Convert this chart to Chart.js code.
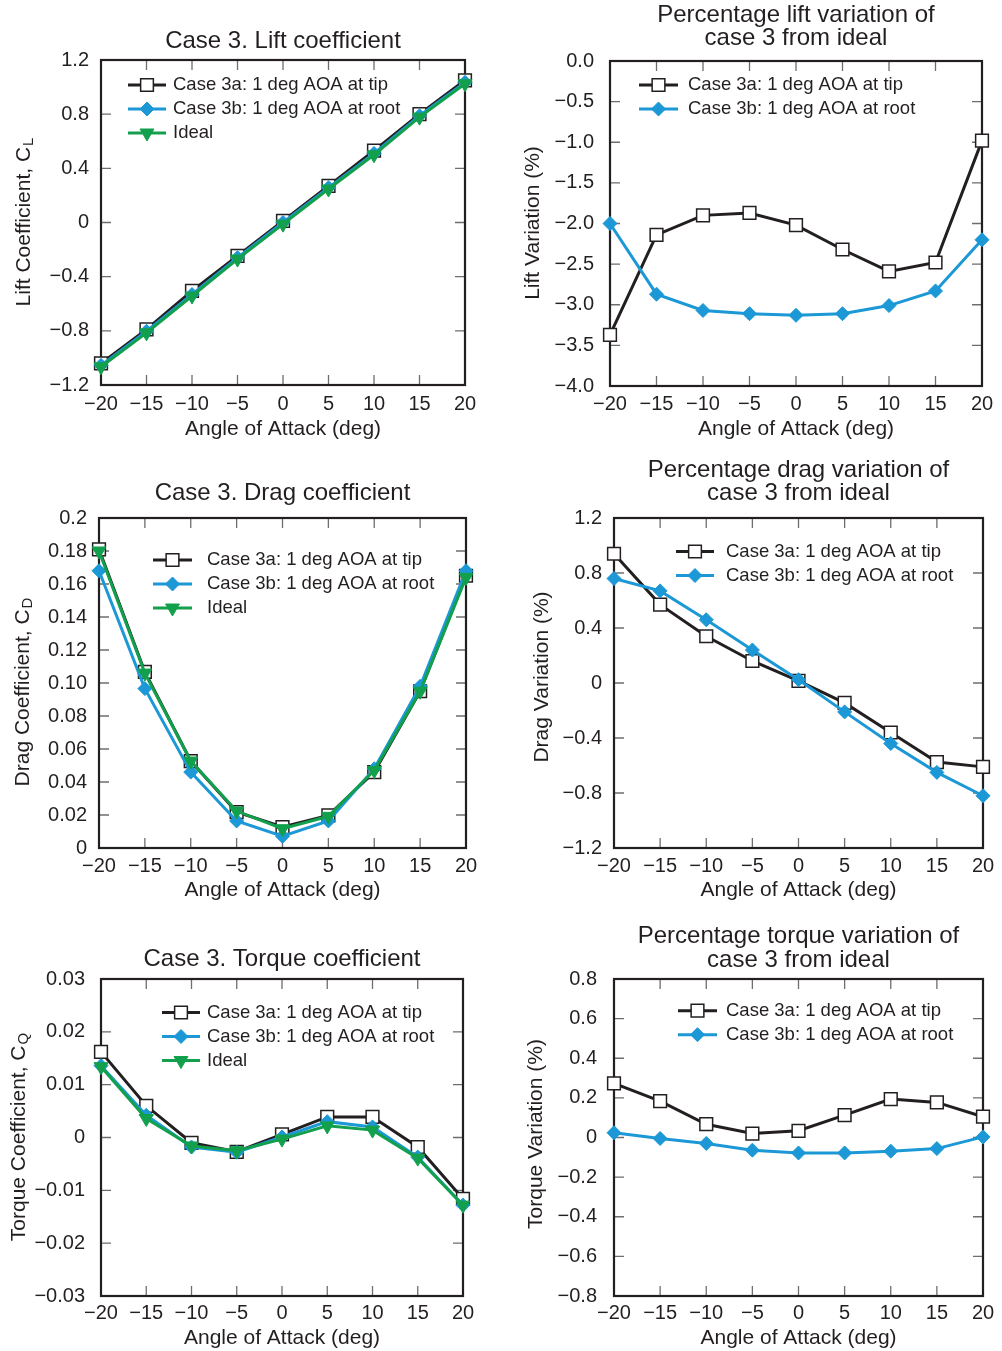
<!DOCTYPE html>
<html><head><meta charset="utf-8">
<script src="https://cdn.jsdelivr.net/npm/chart.js@4/dist/chart.umd.min.js"></script>
<style>
html,body{margin:0;padding:0;background:#fff;}
body{width:1002px;height:1351px;position:relative;overflow:hidden;}
canvas{position:absolute;}
</style></head><body>
<canvas id="c1"></canvas><canvas id="c2"></canvas><canvas id="c3"></canvas>
<canvas id="c4"></canvas><canvas id="c5"></canvas><canvas id="c6"></canvas>
<script>
// ---------- data ----------
const aoa = [-20, -15, -10, -5, 0, 5, 10, 15, 20];
const xTickLabels = ['\u221220','\u221215','\u221210','\u22125','0','5','10','15','20'];

const liftTip   = [-1.04, -0.79, -0.505, -0.247, 0.012, 0.27, 0.53, 0.80, 1.05];
const liftRoot  = [-1.055, -0.803, -0.532, -0.26, 0.0, 0.257, 0.51, 0.788, 1.035];
const liftIdeal = [-1.065, -0.815, -0.543, -0.27, -0.012, 0.247, 0.50, 0.778, 1.025];

const liftVarTip  = [-3.37, -2.14, -1.90, -1.87, -2.02, -2.32, -2.59, -2.48, -0.98];
const liftVarRoot = [-2.00, -2.87, -3.07, -3.11, -3.13, -3.11, -3.01, -2.83, -2.20];

const dragTip   = [0.181, 0.1067, 0.0527, 0.0218, 0.0127, 0.0198, 0.046, 0.095, 0.165];
const dragRoot  = [0.168, 0.0966, 0.046, 0.0164, 0.0071, 0.0164, 0.048, 0.098, 0.168];
const dragIdeal = [0.180, 0.106, 0.0527, 0.0224, 0.0117, 0.0192, 0.047, 0.095, 0.164];

const dragVarTip  = [0.94, 0.57, 0.34, 0.16, 0.015, -0.145, -0.36, -0.575, -0.61];
const dragVarRoot = [0.76, 0.67, 0.46, 0.24, 0.024, -0.21, -0.44, -0.65, -0.82];

const torqueTip   = [0.0162, 0.0060, -0.0010, -0.0027, 0.0006, 0.0039, 0.0039, -0.0018, -0.0116];
const torqueRoot  = [0.0136, 0.0042, -0.0018, -0.0028, 0.0001, 0.0030, 0.0020, -0.0037, -0.0128];
const torqueIdeal = [0.0134, 0.0036, -0.0016, -0.0025, -0.0003, 0.0022, 0.0014, -0.0039, -0.0128];

const torqueVarTip  = [0.273, 0.184, 0.067, 0.020, 0.034, 0.113, 0.194, 0.177, 0.105];
const torqueVarRoot = [0.024, -0.005, -0.030, -0.064, -0.078, -0.078, -0.069, -0.056, 0.003];

const liftTicks = [-1.2, -0.8, -0.4, 0, 0.4, 0.8, 1.2];
const liftTickLabels = ['\u22121.2','\u22120.8','\u22120.4','0','0.4','0.8','1.2'];
const liftVarTicks = [-4, -3.5, -3, -2.5, -2, -1.5, -1, -0.5, 0];
const liftVarTickLabels = ['\u22124.0','\u22123.5','\u22123.0','\u22122.5','\u22122.0','\u22121.5','\u22121.0','\u22120.5','0.0'];
const dragTicks = [0, 0.02, 0.04, 0.06, 0.08, 0.10, 0.12, 0.14, 0.16, 0.18, 0.2];
const dragTickLabels = ['0','0.02','0.04','0.06','0.08','0.10','0.12','0.14','0.16','0.18','0.2'];
const dragVarTicks = [-1.2, -0.8, -0.4, 0, 0.4, 0.8, 1.2];
const dragVarTickLabels = ['\u22121.2','\u22120.8','\u22120.4','0','0.4','0.8','1.2'];
const torqueTicks = [-0.03, -0.02, -0.01, 0, 0.01, 0.02, 0.03];
const torqueTickLabels = ['\u22120.03','\u22120.02','\u22120.01','0','0.01','0.02','0.03'];
const torqueVarTicks = [-0.8, -0.6, -0.4, -0.2, 0, 0.2, 0.4, 0.6, 0.8];
const torqueVarTickLabels = ['\u22120.8','\u22120.6','\u22120.4','\u22120.2','0','0.2','0.4','0.6','0.8'];

const labelTip = 'Case 3a: 1 deg AOA at tip';
const labelRoot = 'Case 3b: 1 deg AOA at root';
const labelIdeal = 'Ideal';

// ---------- styles ----------
const FONT = '"Liberation Sans", Arial, Helvetica, sans-serif';
const INK = '#231f20';
const styles = {
  tip:   {borderColor:'#231f20', borderWidth:3, pointStyle:'rect', pointRadius:9, pointBackgroundColor:'#ffffff', pointBorderColor:'#231f20', pointBorderWidth:1.5, pointRotation:0, order:3},
  root:  {borderColor:'#1b98d5', borderWidth:3, pointStyle:'rectRot', pointRadius:7, pointBackgroundColor:'#1b98d5', pointBorderColor:'#1b98d5', pointBorderWidth:1, pointRotation:0, order:2},
  ideal: {borderColor:'#12a04d', borderWidth:3, pointStyle:'triangle', pointRadius:8, pointBackgroundColor:'#12a04d', pointBorderColor:'#12a04d', pointBorderWidth:1, pointRotation:180, order:1}
};

// ---------- plugins ----------
const framePlugin = {
  id: 'frame',
  beforeDatasetsDraw(chart) {
    const {ctx, chartArea: a, scales: {x, y}} = chart;
    ctx.save();
    ctx.strokeStyle = '#6d6e71'; ctx.lineWidth = 1.3;
    const L = 10;
    ctx.beginPath();
    x.ticks.forEach(t => { const p = x.getPixelForValue(t.value);
      ctx.moveTo(p, a.top); ctx.lineTo(p, a.top + L); ctx.moveTo(p, a.bottom); ctx.lineTo(p, a.bottom - L); });
    y.ticks.forEach(t => { const p = y.getPixelForValue(t.value);
      ctx.moveTo(a.left, p); ctx.lineTo(a.left + L, p); ctx.moveTo(a.right, p); ctx.lineTo(a.right - L, p); });
    ctx.stroke();
    ctx.strokeStyle = '#231f20'; ctx.lineWidth = 2.2;
    ctx.strokeRect(a.left, a.top, a.right - a.left, a.bottom - a.top);
    ctx.restore();
  }
};
const legendPlugin = {
  id: 'insideLegend',
  afterDatasetsDraw(chart, args, o) {
    const ctx = chart.ctx;
    ctx.save();
    chart.data.datasets.forEach((ds, i) => {
      const yy = o.y + i * o.gap;
      ctx.strokeStyle = ds.borderColor; ctx.lineWidth = ds.borderWidth;
      ctx.beginPath(); ctx.moveTo(o.x, yy); ctx.lineTo(o.x + o.len, yy); ctx.stroke();
      ctx.fillStyle = ds.pointBackgroundColor; ctx.strokeStyle = ds.pointBorderColor; ctx.lineWidth = ds.pointBorderWidth;
      Chart.helpers.drawPoint(ctx, {pointStyle: ds.pointStyle, radius: ds.pointRadius, rotation: ds.pointRotation, borderWidth: ds.pointBorderWidth}, o.x + o.len / 2, yy);
      ctx.fillStyle = INK; ctx.font = o.size + 'px ' + FONT; ctx.textBaseline = 'middle'; ctx.textAlign = 'left';
      ctx.fillText(ds.label, o.textX, yy);
    });
    ctx.restore();
  }
};
const yTitlePlugin = {
  id: 'yTitle',
  afterDraw(chart, args, o) {
    const ctx = chart.ctx;
    ctx.save();
    ctx.translate(o.x, o.y); ctx.rotate(-Math.PI / 2);
    ctx.fillStyle = INK; ctx.textBaseline = 'middle'; ctx.textAlign = 'left';
    const mainFont = o.size + 'px ' + FONT, subFont = o.subSize + 'px ' + FONT;
    ctx.font = mainFont; const w1 = ctx.measureText(o.text).width;
    let w2 = 0;
    if (o.sub) { ctx.font = subFont; w2 = ctx.measureText(o.sub).width + 1; }
    const start = -(w1 + w2) / 2;
    ctx.font = mainFont; ctx.fillText(o.text, start, 0);
    if (o.sub) { ctx.font = subFont; ctx.fillText(o.sub, start + w1 + 1, o.subDy); }
    ctx.restore();
  }
};

// ---------- builder ----------
function makeChart(id, cfg) {
  const cv = document.getElementById(id);
  const b = cfg.box, p = cfg.plot;
  cv.width = b.w; cv.height = b.h;
  cv.style.left = b.x + 'px'; cv.style.top = b.y + 'px';
  cv.style.width = b.w + 'px'; cv.style.height = b.h + 'px';
  const LH = 23.5;
  const padTop = cfg.titleMid - b.y - LH / 2;
  const padBottom = p.top - b.y - padTop - cfg.title.length * LH;
  new Chart(cv, {
    type: 'line',
    data: {
      datasets: cfg.series.map(s => Object.assign({
        label: s.label,
        data: aoa.map((a, i) => ({x: a, y: s.values[i]})),
        tension: 0, clip: false, fill: false
      }, styles[s.kind]))
    },
    options: {
      responsive: false, animation: false, devicePixelRatio: 1,
      events: [],
      layout: {padding: {left: 0, top: 0, bottom: 0, right: b.x + b.w - p.right}},
      plugins: {
        legend: {display: false}, tooltip: {enabled: false},
        title: {display: true, text: cfg.title, fullSize: false, color: INK,
          font: {family: FONT, size: 24, weight: 'normal', lineHeight: LH / 24},
          padding: {top: padTop, bottom: padBottom}},
        insideLegend: {x: cfg.legend.x - b.x, y: cfg.legend.y - b.y, len: cfg.legend.len, textX: cfg.legend.textX - b.x, gap: 24, size: 18.5},
        yTitle: {text: cfg.yTitle.text, sub: cfg.yTitle.sub || '', x: cfg.yTitle.x - b.x, y: cfg.yTitle.y - b.y, size: 21, subSize: 15, subDy: 5}
      },
      scales: {
        x: {
          type: 'linear', min: -20, max: 20,
          grid: {display: false, drawTicks: false}, border: {display: false},
          afterBuildTicks: s => { s.ticks = aoa.map(v => ({value: v})); },
          afterFit: s => { s.height = b.y + b.h - p.bottom; },
          ticks: {autoSkip: false, maxRotation: 0, minRotation: 0, padding: cfg.xPad, color: INK,
            font: {family: FONT, size: 20, lineHeight: 1.2}, callback: (v, i) => xTickLabels[i]},
          title: {display: true, text: 'Angle of Attack (deg)', color: INK,
            font: {family: FONT, size: 21, lineHeight: 24 / 21},
            padding: {top: 0, bottom: b.y + b.h - cfg.xTitleMid - 12}}
        },
        y: {
          type: 'linear', min: cfg.yTicks[0], max: cfg.yTicks[cfg.yTicks.length - 1],
          grid: {display: false, drawTicks: false}, border: {display: false},
          afterBuildTicks: s => { s.ticks = cfg.yTicks.map(v => ({value: v})); },
          afterFit: s => { s.width = p.left - b.x; },
          ticks: {autoSkip: false, padding: cfg.yPad, color: INK,
            font: {family: FONT, size: 20, lineHeight: 1.2}, callback: (v, i) => cfg.yTickLabels[i]}
        }
      }
    },
    plugins: [framePlugin, legendPlugin, yTitlePlugin]
  });
}

makeChart('c1', {
  box: {x: 0, y: 0, w: 500, h: 445}, plot: {left: 101, right: 465, top: 60, bottom: 385},
  title: ['Case 3. Lift coefficient'], titleMid: 41, xTitleMid: 429, xPad: 7.5, yPad: 12,
  yTicks: liftTicks, yTickLabels: liftTickLabels,
  yTitle: {text: 'Lift Coefficient, C', sub: 'L', x: 24, y: 222},
  legend: {x: 128, y: 85, len: 38, textX: 173},
  series: [{label: labelTip, kind: 'tip', values: liftTip}, {label: labelRoot, kind: 'root', values: liftRoot}, {label: labelIdeal, kind: 'ideal', values: liftIdeal}]
});
makeChart('c2', {
  box: {x: 500, y: 0, w: 502, h: 445}, plot: {left: 610, right: 982, top: 61, bottom: 386},
  title: ['Percentage lift variation of', 'case 3 from ideal'], titleMid: 15, xTitleMid: 429, xPad: 6.5, yPad: 16,
  yTicks: liftVarTicks, yTickLabels: liftVarTickLabels,
  yTitle: {text: 'Lift Variation (%)', x: 533, y: 223},
  legend: {x: 639, y: 85, len: 39, textX: 688},
  series: [{label: labelTip, kind: 'tip', values: liftVarTip}, {label: labelRoot, kind: 'root', values: liftVarRoot}]
});
makeChart('c3', {
  box: {x: 0, y: 445, w: 500, h: 460}, plot: {left: 99, right: 466, top: 518, bottom: 848},
  title: ['Case 3. Drag coefficient'], titleMid: 493.7, xTitleMid: 890.7, xPad: 6, yPad: 12,
  yTicks: dragTicks, yTickLabels: dragTickLabels,
  yTitle: {text: 'Drag Coefficient, C', sub: 'D', x: 23, y: 692},
  legend: {x: 153, y: 560, len: 39, textX: 207},
  series: [{label: labelTip, kind: 'tip', values: dragTip}, {label: labelRoot, kind: 'root', values: dragRoot}, {label: labelIdeal, kind: 'ideal', values: dragIdeal}]
});
makeChart('c4', {
  box: {x: 500, y: 445, w: 502, h: 460}, plot: {left: 614, right: 983, top: 518, bottom: 848},
  title: ['Percentage drag variation of', 'case 3 from ideal'], titleMid: 470, xTitleMid: 890.7, xPad: 6, yPad: 12,
  yTicks: dragVarTicks, yTickLabels: dragVarTickLabels,
  yTitle: {text: 'Drag Variation (%)', x: 542, y: 677},
  legend: {x: 676, y: 551.5, len: 38, textX: 726},
  series: [{label: labelTip, kind: 'tip', values: dragVarTip}, {label: labelRoot, kind: 'root', values: dragVarRoot}]
});
makeChart('c5', {
  box: {x: 0, y: 905, w: 500, h: 446}, plot: {left: 101, right: 463, top: 979, bottom: 1296},
  title: ['Case 3. Torque coefficient'], titleMid: 959.7, xTitleMid: 1338.3, xPad: 5.5, yPad: 16,
  yTicks: torqueTicks, yTickLabels: torqueTickLabels,
  yTitle: {text: 'Torque Coefficient, C', sub: 'Q', x: 19, y: 1137},
  legend: {x: 162, y: 1012.5, len: 38, textX: 207},
  series: [{label: labelTip, kind: 'tip', values: torqueTip}, {label: labelRoot, kind: 'root', values: torqueRoot}, {label: labelIdeal, kind: 'ideal', values: torqueIdeal}]
});
makeChart('c6', {
  box: {x: 500, y: 905, w: 502, h: 446}, plot: {left: 614, right: 983, top: 979, bottom: 1296},
  title: ['Percentage torque variation of', 'case 3 from ideal'], titleMid: 936.7, xTitleMid: 1338.3, xPad: 5.5, yPad: 17,
  yTicks: torqueVarTicks, yTickLabels: torqueVarTickLabels,
  yTitle: {text: 'Torque Variation (%)', x: 536, y: 1134},
  legend: {x: 678, y: 1010.7, len: 39, textX: 726},
  series: [{label: labelTip, kind: 'tip', values: torqueVarTip}, {label: labelRoot, kind: 'root', values: torqueVarRoot}]
});
</script>
</body></html>
